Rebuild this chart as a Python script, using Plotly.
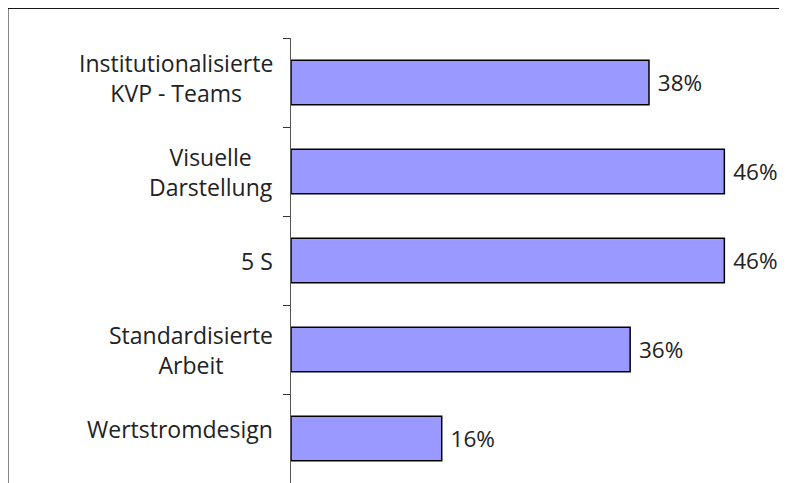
import plotly.graph_objects as go

# Kategorien von oben nach unten
kategorien = [
    "Institutionalisierte<br>KVP - Teams",
    "Visuelle<br>Darstellung",
    "5 S",
    "Standardisierte<br>Arbeit",
    "Wertstromdesign",
]
anteile = [38, 46, 46, 36, 16]
beschriftung = ["38%", "46%", "46%", "36%", "16%"]

schrift = "Open Sans"
textfarbe = "#222222"
# kleine vertikale Verschiebung der Achsenbeschriftungen wie im Original
versatz = [5, 0, 0, 0, 10]

fig = go.Figure()
fig.add_trace(go.Bar(
    x=anteile,
    y=kategorien,
    orientation="h",
    text=beschriftung,
    texttemplate="\u00a0%{text}",
    textposition="outside",
    cliponaxis=False,
    textfont=dict(family=schrift, size=22.5, color=textfarbe),
    marker=dict(color="#9999FF", line=dict(color="black", width=1.5)),
    width=0.5,
))

# Kategorienamen zentriert (mehrzeilig) als Annotationen
for k, v in zip(kategorien, versatz):
    fig.add_annotation(
        x=0, xref="paper", y=k, yref="y",
        text=k, showarrow=False,
        xanchor="right", align="center", xshift=-16, yshift=v,
        font=dict(family=schrift, size=23, color=textfarbe),
    )

# Rahmen um das Diagramm
fig.add_shape(type="rect", xref="paper", yref="paper",
              x0=-0.5706, x1=1.02, y0=-0.02, y1=1.0665,
              line=dict(color="black", width=1))

# Seite hat 8px Rand, daher Breite/Hoehe entsprechend kleiner
fig.update_layout(
    width=779, height=475,
    margin=dict(l=283, r=0, t=30, b=0),
    paper_bgcolor="white", plot_bgcolor="white",
    showlegend=False,
    bargap=0.5,
)
fig.update_xaxes(range=[0, 52.65], visible=False)
fig.update_yaxes(
    autorange="reversed",
    type="category",
    showticklabels=False,
    showline=True, linecolor="#555555", linewidth=1,
    ticks="outside", ticklen=7, tickcolor="#333333",
    tickson="boundaries",
    showgrid=False, zeroline=False,
)

fig.write_html("out.html")
